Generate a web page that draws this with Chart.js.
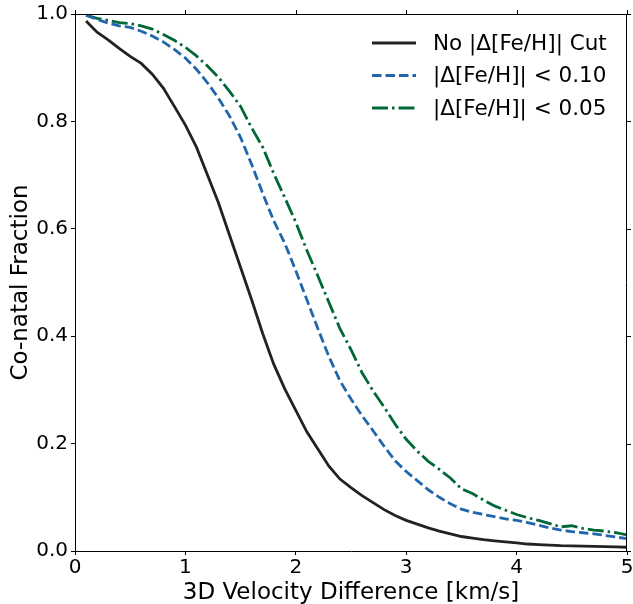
<!DOCTYPE html>
<html>
<head>
<meta charset="utf-8">
<script src="https://cdn.jsdelivr.net/npm/chart.js@4"></script>
<style>
  html, body { margin: 0; padding: 0; background: #fff; }
  #wrap { width: 633px; height: 604px; }
</style>
</head>
<body>
<div id="wrap"><canvas id="chart" width="633" height="604"></canvas></div>
<script>
// velocity grid (km/s)
const velocity = [0.1,0.2,0.3,0.4,0.5,0.6,0.7,0.8,0.9,1.0,1.1,1.2,1.3,1.4,1.5,1.6,1.7,1.8,1.9,2.0,
  2.1,2.2,2.3,2.4,2.5,2.6,2.7,2.8,2.9,3.0,3.1,3.2,3.3,3.4,3.5,3.6,3.7,3.8,3.9,4.0,
  4.1,4.2,4.3,4.4,4.5,4.6,4.7,4.8,4.9,5.0];

const noCut = [0.987,0.966,0.952,0.936,0.921,0.908,0.888,0.862,0.828,0.793,
  0.752,0.700,0.648,0.588,0.528,0.468,0.405,0.348,0.302,0.262,
  0.222,0.190,0.158,0.134,0.118,0.103,0.090,0.077,0.066,0.057,
  0.050,0.043,0.037,0.032,0.027,0.024,0.021,0.019,0.017,0.015,
  0.013,0.012,0.011,0.010,0.0095,0.009,0.0085,0.008,0.0075,0.007];

const cut010 = [0.998,0.990,0.983,0.978,0.975,0.968,0.959,0.948,0.934,0.918,
  0.897,0.872,0.843,0.810,0.770,0.720,0.666,0.615,0.573,0.522,
  0.468,0.414,0.362,0.317,0.283,0.252,0.224,0.195,0.168,0.148,
  0.131,0.114,0.100,0.088,0.078,0.072,0.068,0.064,0.060,0.057,
  0.053,0.048,0.043,0.039,0.036,0.034,0.032,0.029,0.026,0.023];

const cut005 = [0.998,0.992,0.988,0.984,0.982,0.978,0.972,0.962,0.951,0.938,
  0.922,0.903,0.882,0.856,0.828,0.788,0.752,0.703,0.658,0.612,
  0.560,0.512,0.463,0.414,0.375,0.332,0.298,0.268,0.236,0.208,
  0.186,0.167,0.152,0.136,0.116,0.107,0.095,0.084,0.076,0.068,
  0.062,0.057,0.051,0.045,0.047,0.042,0.039,0.037,0.034,0.030];

const seriesNames = ['No |\u0394[Fe/H]| Cut', '|\u0394[Fe/H]| < 0.10', '|\u0394[Fe/H]| < 0.05'];
const xTicks = [0, 1, 2, 3, 4, 5];
const yTicks = [0.0, 0.2, 0.4, 0.6, 0.8, 1.0];

const FONT = 'DejaVu Sans';
const lineColors = ['#222222', '#2166ac', '#006837'];
const lineDashes = [[], [9.5, 4], [16, 4, 2.5, 4]];

function toPoints(ys) {
  return velocity.map((v, i) => ({ x: v, y: ys[i] }));
}

// box frame, mirrored ticks and a frameless legend like matplotlib
const framePlugin = {
  id: 'frame',
  afterDraw(chart) {
    const { ctx, chartArea: a, scales } = chart;
    ctx.save();
    ctx.strokeStyle = '#000';
    ctx.lineWidth = 1;
    ctx.beginPath();
    ctx.moveTo(a.left, a.top + 0.5); ctx.lineTo(a.right, a.top + 0.5);
    ctx.moveTo(a.right - 0.5, a.top); ctx.lineTo(a.right - 0.5, a.bottom);
    xTicks.forEach(t => {
      const px = Math.round(scales.x.getPixelForValue(t)) + 0.5;
      ctx.moveTo(px, a.top); ctx.lineTo(px, a.top - 4);
    });
    yTicks.forEach(t => {
      const py = Math.round(scales.y.getPixelForValue(t)) + 0.5;
      ctx.moveTo(a.right, py); ctx.lineTo(a.right + 4, py);
    });
    ctx.stroke();

    // legend
    ctx.font = '21.5px "' + FONT + '"';
    ctx.textBaseline = 'middle';
    ctx.fillStyle = '#000';
    seriesNames.forEach((name, i) => {
      const y = 43 + i * 32.5;
      ctx.beginPath();
      ctx.strokeStyle = lineColors[i];
      ctx.lineWidth = 2.8;
      ctx.setLineDash(lineDashes[i]);
      ctx.moveTo(372, y); ctx.lineTo(416, y);
      ctx.stroke();
      ctx.setLineDash([]);
      ctx.fillText(name, 433, y + 1);
    });
    ctx.restore();
  }
};

const ctx = document.getElementById('chart').getContext('2d');
new Chart(ctx, {
  type: 'line',
  data: {
    datasets: seriesNames.map((name, i) => ({
      label: name,
      data: toPoints([noCut, cut010, cut005][i]),
      borderColor: lineColors[i],
      borderDash: lineDashes[i],
      borderWidth: 2.8,
      pointRadius: 0,
      fill: false,
      tension: 0
    }))
  },
  options: {
    responsive: false,
    animation: false,
    layout: { padding: { top: 14, right: 6, left: 0, bottom: 0 } },
    plugins: { legend: { display: false }, tooltip: { enabled: false } },
    scales: {
      x: {
        type: 'linear', min: 0, max: 5,
        afterBuildTicks: s => { s.ticks = xTicks.map(v => ({ value: v })); },
        afterFit: s => { s.height = 53; s.paddingLeft = 0; s.paddingRight = 0; },
        ticks: { color: '#000', font: { family: FONT, size: 20 }, padding: 1,
                 callback: v => String(v) },
        grid: { drawOnChartArea: false, drawTicks: true, tickLength: 4, color: '#000' },
        border: { color: '#000', width: 1 },
        title: { display: true, text: '3D Velocity Difference [km/s]', color: '#000',
                 font: { family: FONT, size: 23 }, padding: { top: 0, bottom: -3 } }
      },
      y: {
        type: 'linear', min: 0, max: 1,
        afterBuildTicks: s => { s.ticks = yTicks.map(v => ({ value: v })); },
        afterFit: s => { s.width = 75; s.paddingTop = 0; s.paddingBottom = 0; },
        ticks: { color: '#000', font: { family: FONT, size: 20 }, padding: 3,
                 callback: v => v.toFixed(1) },
        grid: { drawOnChartArea: false, drawTicks: true, tickLength: 4, color: '#000' },
        border: { color: '#000', width: 1 },
        title: { display: true, text: 'Co-natal Fraction', color: '#000',
                 font: { family: FONT, size: 23 }, padding: { top: 7, bottom: 0 } }
      }
    }
  },
  plugins: [framePlugin]
});
</script>
</body>
</html>
